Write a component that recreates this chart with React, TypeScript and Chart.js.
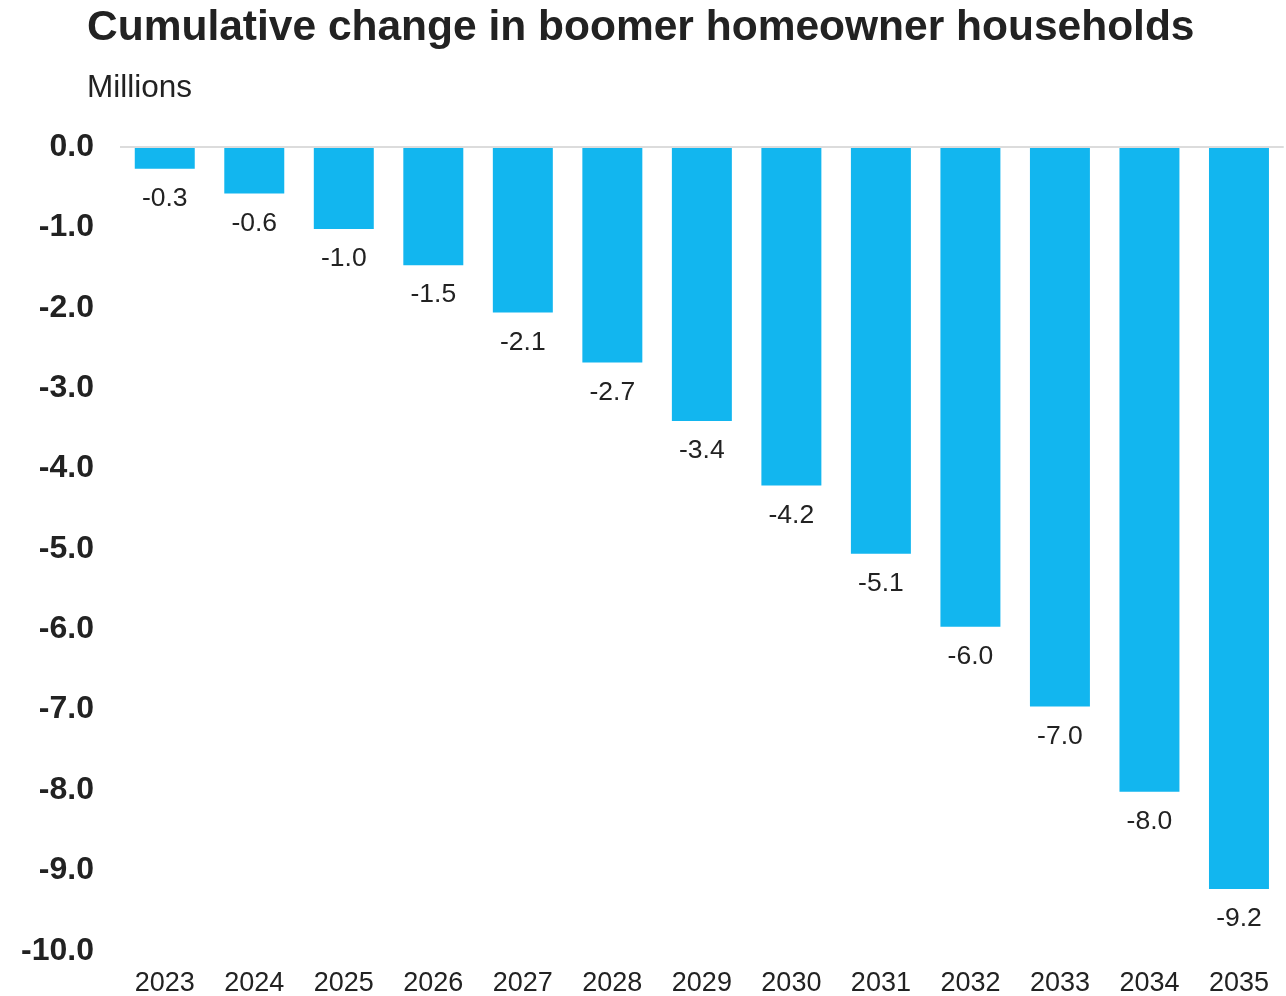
import React, { useEffect, useRef } from "react";
import { Chart, registerables } from "chart.js";

Chart.register(...registerables);

const TITLE = "Cumulative change in boomer homeowner households";
const SUBTITLE = "Millions";
const years = ["2023", "2024", "2025", "2026", "2027", "2028", "2029", "2030", "2031", "2032", "2033", "2034", "2035"];
const values = [-0.27, -0.58, -1.02, -1.47, -2.06, -2.68, -3.41, -4.21, -5.06, -5.97, -6.96, -8.02, -9.23];
const yMin = -10;
const yMax = 0;
const yStep = 1;

const BAR_COLOR = "#12B6EF";
const TEXT_COLOR = "#222222";
const FONT = "'Liberation Sans', Arial, sans-serif";

const W = 1286;
const H = 996;

export default function App() {
  const ref = useRef<HTMLCanvasElement | null>(null);

  useEffect(() => {
    const canvas = ref.current;
    if (!canvas) return;

    const headerPlugin = {
      id: "header",
      afterDraw(chart: any) {
        const ctx = chart.ctx;
        ctx.save();
        ctx.fillStyle = TEXT_COLOR;
        ctx.textAlign = "left";
        ctx.textBaseline = "alphabetic";
        ctx.font = `bold 42.5px ${FONT}`;
        ctx.fillText(TITLE, 87, 40);
        ctx.font = `31.5px ${FONT}`;
        ctx.fillText(SUBTITLE, 87, 97);
        ctx.restore();
      },
    };

    const labelPlugin = {
      id: "barLabels",
      afterDatasetsDraw(chart: any) {
        const ctx = chart.ctx;
        const meta = chart.getDatasetMeta(0);
        ctx.save();
        ctx.fillStyle = TEXT_COLOR;
        ctx.font = `26.5px ${FONT}`;
        ctx.textAlign = "center";
        ctx.textBaseline = "middle";
        meta.data.forEach((el: any, i: number) => {
          const v = values[i];
          ctx.fillText(v.toFixed(1), el.x, el.y + 30);
        });
        ctx.restore();
      },
    };

    const chart = new Chart(canvas, {
      type: "bar",
      data: {
        labels: years,
        datasets: [
          {
            data: values,
            backgroundColor: BAR_COLOR,
            borderWidth: 0,
            barPercentage: 0.67,
            categoryPercentage: 1,
          },
        ],
      },
      options: {
        responsive: false,
        animation: false,
        layout: { padding: { top: 147, left: 0, right: 0, bottom: 0 } },
        plugins: {
          legend: { display: false },
          title: { display: false },
          tooltip: { enabled: false },
        },
        scales: {
          x: {
            grid: { display: false, drawTicks: false },
            border: { display: false },
            ticks: {
              color: TEXT_COLOR,
              font: { family: FONT, size: 27 },
              padding: 17,
              maxRotation: 0,
              autoSkip: false,
            },
            afterFit(scale: any) {
              scale.height = 45;
            },
          },
          y: {
            min: yMin,
            max: yMax,
            grid: {
              drawTicks: false,
              lineWidth: 2,
              color: (c: any) => (c.tick && c.tick.value === 0 ? "#dcdcdc" : "rgba(0,0,0,0)"),
            },
            border: { display: false },
            ticks: {
              stepSize: yStep,
              color: TEXT_COLOR,
              font: { family: FONT, size: 32, weight: "bold" },
              padding: 26,
              callback: (v: any) => Number(v).toFixed(1),
            },
            afterFit(scale: any) {
              scale.width = 120;
            },
          },
        },
      },
      plugins: [headerPlugin, labelPlugin],
    });

    return () => chart.destroy();
  }, []);

  return (
    <div style={{ position: "absolute", left: 0, top: 0, width: W, height: H, background: "#fff" }}>
      <canvas ref={ref} width={W} height={H} style={{ display: "block", width: W, height: H }} />
    </div>
  );
}
